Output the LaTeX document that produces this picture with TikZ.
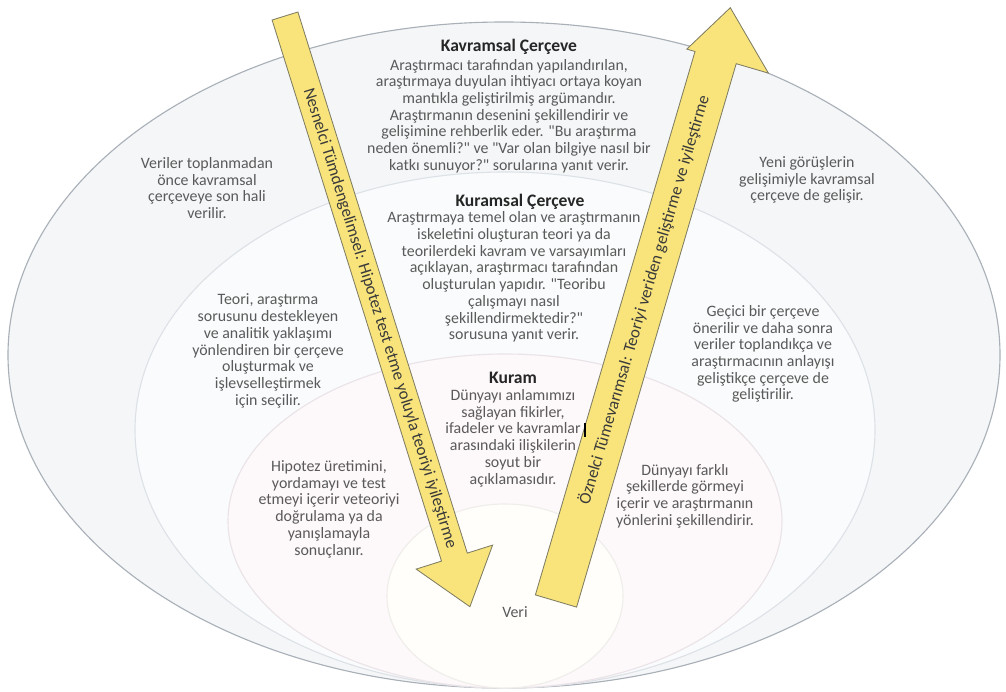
\documentclass[tikz,border=0pt]{standalone}
\usepackage{fontspec}
\setmainfont{Carlito}[Ligatures=TeXOff]
\usepackage{tikz}
\usetikzlibrary{calc,positioning}
\definecolor{ringA}{HTML}{F5F6F8}
\definecolor{ringB}{HTML}{FAFBFC}
\definecolor{ringC}{HTML}{FDF8FA}
\definecolor{ringD}{HTML}{FFFEFA}
\definecolor{lineA}{HTML}{A9B0B8}
\definecolor{lineB}{HTML}{DDE2E7}
\definecolor{lineC}{HTML}{EAE3E7}
\definecolor{lineD}{HTML}{EFEEEB}
\definecolor{inkgray}{HTML}{5A5A5A}
\definecolor{inkdark}{HTML}{262626}
\definecolor{arrowfill}{HTML}{F9E47C}
\definecolor{arrowline}{HTML}{7F7D62}
\definecolor{arrowink}{HTML}{3A3A3A}

\begin{document}
\begin{tikzpicture}[x=0.025cm, y=-0.025cm]
\tikzstyle{ring}=[line width=0.8pt]
\tikzstyle{bodytext}=[align=center, text=inkgray, inner sep=0pt,
                      font=\fontsize{11.3}{11.9}\selectfont]
\tikzstyle{headtext}=[text=inkdark, inner sep=0pt,
                      font=\fontsize{12.5}{13}\selectfont\bfseries]
\tikzstyle{bigarrow}=[fill=arrowfill, draw=arrowline, line width=0.6pt, line join=miter]
\tikzstyle{arrowtext}=[text=arrowink, inner sep=0pt, font=\fontsize{12}{13}\selectfont]

\useasboundingbox (0,0) rectangle (1006,691);
\fill[white] (0,0) rectangle (1006,691);

% nested rings
\draw[ring, fill=ringA, draw=lineA] (504,355) ellipse [x radius=496, y radius=333];
\draw[ring, fill=ringB, draw=lineB] (505,430) ellipse [x radius=370, y radius=258];
\draw[ring, fill=ringC, draw=lineC] (505,521) ellipse [x radius=277, y radius=167];
\draw[ring, fill=ringD, draw=lineD] (505,596) ellipse [x radius=118, y radius=92];

% the two big arrows
\draw[bigarrow] (272.1,20.0) -- (297.9,12.0) -- (467.3,553.1) -- (492.6,545.1)
   -- (469.9,606.7) -- (416.2,569.1) -- (441.5,561.1) -- cycle;
\draw[bigarrow] (535.4,594.9) -- (695.0,51.5) -- (686.8,49.1) -- (730.3,7.7)
   -- (768.4,73.1) -- (736.2,63.7) -- (576.6,607.1) -- cycle;
\node[arrowtext, rotate=-72.6] (deduct) at (379.7,318.5)
   {Nesnelci Tümdengelimsel: Hipotez test etme yoluyla teoriyi iyileştirme};
\node[arrowtext, rotate=73.6] (induct) at (644,300)
   {Öznelci Tümevarımsal: Teoriyi veriden geliştirme ve iyileştirme};

% centre column
\node[headtext] (kavTitle) at (509,47) {Kavramsal Çerçeve};
\node[bodytext] (kavBody) at (509,116) {Araştırmacı tarafından yapılandırılan,\\
  araştırmaya duyulan ihtiyacı ortaya koyan\\ mantıkla geliştirilmiş argümandır.\\
  Araştırmanın desenini şekillendirir ve\\ gelişimine rehberlik eder. "Bu araştırma\\
  neden önemli?" ve "Var olan bilgiye nasıl bir\\ katkı sunuyor?" sorularına yanıt verir.};
\node[headtext] (kurTitle) at (520,202) {Kuramsal Çerçeve};
\node[bodytext] (kurBody) at (514,277) {Araştırmaya temel olan ve araştırmanın\\
  iskeletini oluşturan teori ya da\\ teorilerdeki kavram ve varsayımları\\
  açıklayan, araştırmacı tarafından\\ oluşturulan yapıdır. "Teoribu\\
  çalışmayı nasıl\\ şekillendirmektedir?"\\ sorusuna yanıt verir.};
\node[headtext] (kuramTitle) at (513,378) {Kuram};
\node[bodytext] (kuramBody) at (513,438) {Dünyayı anlamımızı\\ sağlayan fikirler,\\
  ifadeler ve kavramlar\\ arasındaki ilişkilerin\\ soyut bir\\ açıklamasıdır.};
\draw[line width=1.1pt, black] (585,423) -- (585,437);
\node[bodytext] (veri) at (515,612) {Veri};

% left side
\node[bodytext] (leftA) at (207,188) {Veriler toplanmadan\\ önce kavramsal\\
  çerçeveye son hali\\ verilir.};
\node[bodytext] (leftB) at (268,351) {Teori, araştırma\\ sorusunu destekleyen\\
  ve analitik yaklaşımı\\ yönlendiren bir çerçeve\\ oluşturmak ve\\
  işlevselleştirmek\\ için seçilir.};
\node[bodytext] (leftC) at (329,509) {Hipotez üretimini,\\ yordamayı ve test\\
  etmeyi içerir veteoriyi\\ doğrulama ya da\\ yanışlamayla\\ sonuçlanır.};

% right side
\node[bodytext] (rightA) at (807,180) {Yeni görüşlerin\\ gelişimiyle kavramsal\\
  çerçeve de gelişir.};
\node[bodytext] (rightB) at (763,354) {Geçici bir çerçeve\\ önerilir ve daha sonra\\
  veriler toplandıkça ve\\ araştırmacının anlayışı\\ geliştikçe çerçeve de\\
  geliştirilir.};
\node[bodytext] (rightC) at (685,496) {Dünyayı farklı\\ şekillerde görmeyi\\
  içerir ve araştırmanın\\ yönlerini şekillendirir.};
\end{tikzpicture}
\end{document}
